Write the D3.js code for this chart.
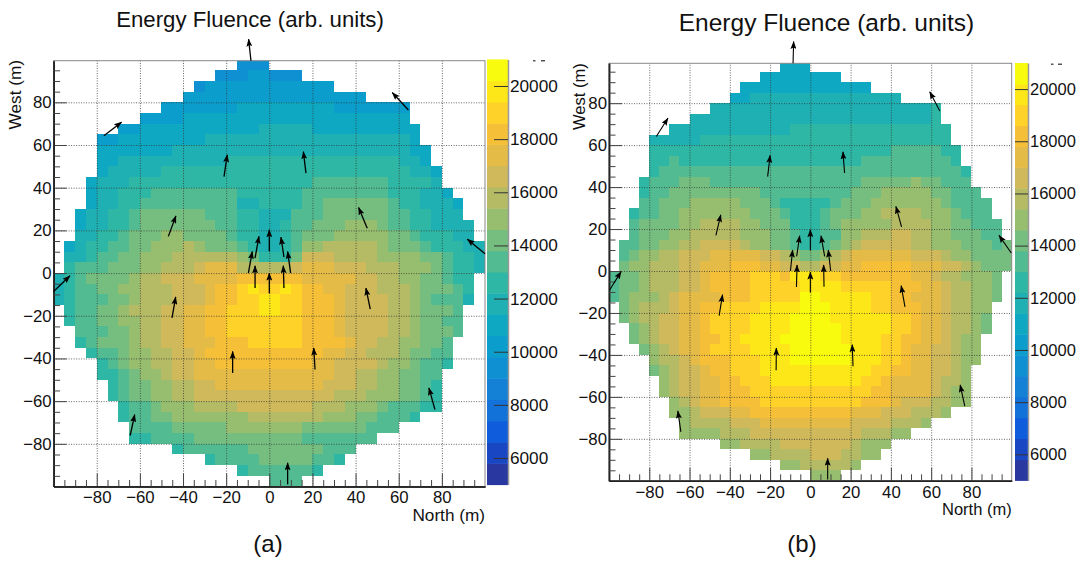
<!DOCTYPE html>
<html>
<head>
<meta charset="utf-8">
<script src="https://cdn.jsdelivr.net/npm/d3@7"></script>
<style>
  body { margin: 0; background: #fff; }
  svg { display: block; }
  text { font-family: "Liberation Sans", Arial, sans-serif; fill: #111; }
</style>
</head>
<body>
<svg id="chart" width="1083" height="563"></svg>
<script>
// band letters: a = 5000-5800 ... t = 20200-21000, each row is "band col" or "band from-to"
const bandLetters = "abcdefghijklmnopqrst";
const zMin = 5000, zMax = 21000, zStep = 800;

const fluenceA = [
  "f17-19",
  "f15-17 g18-19 f20-22",
  "f13 g14-25",
  "g12-28",
  "g10-16 h17-25 g26-32",
  "g8-11 h12-32",
  "g6-7 h8-18 i19-23 h24-33",
  "g4-5 h6-13 i14-32 h33",
  "h4-10 i11-32 h33-34",
  "h4-5 i6-15 j16-31 i32-33 h34",
  "h4 i5-9 j10-32 i33-34 h35",
  "h3 i4-6 j7-23 k24-30 j31-34 i35",
  "h3 i4-5 j6-8 k9-16 j17-22 k23-30 j31-33 i34-35 h36",
  "h3 i4-5 j6-7 k8-16 i17-18 j19-22 k23-24 l25-30 k31 j32-33 i34-36 h37",
  "h2 i3-4 j5-6 k7 l8-13 k14-16 j17-18 i19-21 k22-24 l25-30 k31-32 j33-34 i35-37",
  "h2 i3-4 j5-6 k7 l8-14 k15-16 j17-18 i19-20 j21 k22-23 l24-26 m27-29 l30 k31-32 j33-34 i35-38",
  "i2-3 j4-5 k6 l7-9 m10-11 l12-15 k16 j17-18 i19-20 j21 k22 l23-25 m26-30 l31-32 k33 j34-36 i37-38",
  "h1 i2 j3-4 k5-6 l7-8 m9-11 n12 m13 l14-16 k17 j18 i19-20 j21 k22 m23-24 n25-29 m30 l31-33 k34 j35-37 i38-39",
  "i1-2 j3 k4-5 l6-7 m8-10 n11-16 m17 l18 j19-21 l22 o23-25 n26-29 m30-33 l34-35 k36 j37-38 i39",
  "j1 k2-4 l5-7 m8-9 n10-12 o13 p14-16 n17-21 o22 p23-25 o26-28 n29-31 m32-34 l35 k36 j37-38 i39",
  "i0 j1 k2 l3-6 m7 n8-9 o10-12 p13-16 q17-22 p23-27 o28-29 n30-31 m32-33 l34-35 k36 j37-38",
  "i0 j1 k2-3 l4-5 m6-7 n8-10 o11-13 p14 q15-16 r17 s18 r19-20 s21 r22 q23-24 p25-26 o27-29 n30-32 m33 l34-36 k37 j38",
  "i0 j1 k2-4 l5-6 m7 n8-10 o11-13 p14 q15-16 r17-18 s19-20 r21-22 q23-25 p26 o27-30 n31-32 m33 l34 k35-37 i38",
  "j1 k2-3 l4-5 m6 n7-9 o10-11 p12-13 q14-15 r16-18 s19-20 r21-22 q23-25 p26 o27-30 n31-32 m33 l34-36 k37",
  "j1 k2-3 l4-5 m6-7 n8-9 o10-11 p12-13 q14-15 r16-22 q23-25 p26 o27-30 n31-32 m33 l34-35 k36-37",
  "k2-4 l5-6 m7 n8-9 o10-11 p12-13 q14-15 r16-22 q23-25 p26 o27-30 n31-32 m33 l34-36 k37",
  "j2 k3 l4-6 m7 n8-9 o10-11 p12-14 q15-17 r18-22 q23-26 p27 o28-29 n30-31 m32-33 l34-35 k36",
  "j3 k4-5 l6 m7-8 n9-10 o11-12 p13 q14-24 p25-26 o27-28 n29-31 m32 l33-34 k35-36",
  "j4 k5 l6 m7-8 n9-10 o11-12 p13-14 q15-23 p24-25 o26-29 n30 m31-32 l33 k34-35 j36",
  "j4-5 k6 l7 m8-9 n10 o11-12 p13-25 o26-27 n28-29 m30-31 l32-33 k34-35",
  "j5 k6 l7-8 m9-10 n11-12 o13-14 p15-24 o25-27 n28-29 m30-31 l32-33 k34 j35",
  "j5 k6 l7-8 m9-10 n11-12 o13-25 n26-28 m29-31 l32-33 k34 j35",
  "j6 k7-8 l9 m10-12 n13-16 o17-23 n24-26 m27-29 l30 k31-33 j34-35",
  "j6 k7-8 l9-10 m11-17 n18-24 m25-27 l28-29 k30-32 j33",
  "k7-10 l11-15 m16-22 l23-28 k29-31",
  "j7-8 k9-12 l13-22 k23-29",
  "j11 k12-17 l18-24 k25-27",
  "j14 k15-18 l19-23 k24-25 j26",
  "j17 k18-23 j24",
  "k20-22"
];

const fluenceB = [
  "h17-19",
  "h15-22",
  "h13-25",
  "h12-13 i14-28",
  "i10-31 j32",
  "i8-31 j32",
  "i6-17 j18-33",
  "i4-8 j9-33",
  "j4-27 k28-32 j33-34",
  "j4-5 k6 j7-24 k25-33 j34",
  "j4 k5-34 j35",
  "j3 k4-6 l7-9 k10-24 l25-29 m30 l31-32 k33-35",
  "j3 k4-5 l6-14 k15-23 l24-26 m27-31 l32-33 k34-36",
  "k3-4 l5-7 m8-12 l13-15 k16 j17-21 k22 l23-25 m26-32 l33 k34-37",
  "j2 k3-4 l5-6 m7-13 l14-16 k17 j18-20 k21 l22-24 m25-26 n27-30 m31-33 l34 k35-37",
  "k2 l3-6 m7-8 n9-12 m13-14 l15-17 j18-20 k21 l22 m23-27 n28-31 m32-33 l34-35 k36-38",
  "k2 l3-5 m6-7 n8-12 m13-15 l16-17 k18 j19-20 k21-22 m23-24 n25-27 o28-29 n30-31 m32-33 l34-36 k37-38",
  "k1-2 l3-4 m5-6 n7-8 o9-12 n13 m14-15 l16-17 k18 j19-20 k21 l22 m23 n24 o25-29 n30-31 m32-34 l35-37 k38 l39",
  "k1 l2 m3-4 n5-6 o7-9 p10-14 o15-16 n17 m18 l19-20 m21 n22 o23 p24-29 o30-32 n33 m34-35 l36-39",
  "l1 m2-3 n4-6 o7-8 p9-11 q12-14 p15-16 o17-18 n19-20 o21-22 p23-24 q25-29 p30-32 o33-34 n35 m36 l37-39",
  "k0 l1-2 m3 n4-6 o7-8 p9 q10-13 r14-16 q17 s18-20 r21-22 q23-29 p30-31 o32 n33-34 m35-37 l38",
  "k0 l1-2 m3 n4-6 o7-8 p9 q10-13 r14-18 s19-22 r23-27 q28-30 p31-32 o33 n34-35 m36-37 l38",
  "k0 l1 m2-4 n5 o6 p7-10 q11-13 r14-18 t19-20 s21-25 r26-27 q28-29 p30-32 o33 n34-35 m36-37 l38",
  "l1 m2 n3-5 o6 p7-8 q9-10 r11-14 s15-18 t19-21 s22-25 r26-27 q28-30 p31-32 o33 n34-35 m36-37",
  "l1 m2 n3-4 o5-6 p7-8 q9 r10-13 s14-17 t18-21 s22-27 r28-29 q30 p31-32 o33 n34-35 m36 l37",
  "l2 m3 n4 o5-6 p7-8 q9 r10-13 s14-17 t18-22 s23-27 r28-29 q30 p31-32 o33 n34-35 m36 l37",
  "l2 m3 n4 o5-6 p7-8 q9-10 r11-12 s13-16 t17-22 s23-26 r27-28 q29-30 p31-32 o33 n34 m35-36",
  "l3 m4 n5 o6 p7-8 q9 r10-13 s14-17 t18-23 s24-26 r27-28 q29 p30-31 o32-33 n34 m35-36",
  "m4 n5-6 o7 p8 q9-11 r12-14 s15-17 t18-23 s24-26 r27-28 q29 p30-31 o32-33 n34 m35-36",
  "l4 m5 n6 o7-8 p9 q10-11 r12-14 s15-25 r26-27 q28-29 p30-31 o32-33 n34 m35",
  "m5 n6 o7-8 p9-10 q11-12 r13-15 s16-24 r25-26 q27 p28-31 o32 n33-34 m35",
  "m5 n6 o7-8 p9-10 q11-13 r14-25 q26-27 p28-31 o32 n33 m34-35",
  "m6 n7 o8 p9-10 q11-14 r15-24 q25-27 p28 o29-31 n32-33 m34-35",
  "m6-7 n8 o9-11 p12-13 q14-23 p24-26 o27-29 n30-32 m33",
  "m7 n8-11 o12-14 p15-23 o24-27 n28-30 m31",
  "m7-10 n11-13 o14-24 n25-27 m28-29",
  "m11-12 n13-16 o17-23 n24 m25-27",
  "m14-15 n16-19 o20-22 n23-24 m25-26",
  "m17-18 n19-23 m24",
  "m20-22"
];

// arrows: [tail north, tail west, head north, head west] in metres
const arrowsA = [
  [-8.5, 99.5, -9.6, 109.6], [-76.7, 64.3, -68.5, 70.7], [-21, 45.2, -19.5, 55.4],
  [-46.8, 17.2, -43.3, 26.8], [0, 10.1, 0, 20.3], [-6.6, 7, -4.8, 17.2],
  [-9.7, 0, -7.9, 10.1], [-6.6, -7, -6.6, 3.4], [0, -9.4, 0, 0],
  [6.8, -7, 6.5, 3.4], [6.8, 7.5, 5.4, 16.8], [9.9, 0, 8.5, 10.1],
  [17, 46.8, 15.8, 56.9], [45.4, 21, 41.4, 30.7], [64.5, 76.4, 57, 84.6],
  [100, 9, 91.8, 15.9], [-100, -8.6, -92.4, -1.3], [-45.1, -21, -43.4, -11.2],
  [-17, -46.8, -17, -36.7], [-64.5, -76.1, -62.4, -66.3], [8.5, -99, 8.5, -88.9],
  [21.2, -45.2, 20.6, -35.1], [46.8, -16.9, 44.8, -7], [76.8, -64, 74, -53.8]
];
const arrowsB = [
  [-8.6, 99, -8.3, 109.4], [-76.5, 64.1, -70.7, 72.9], [-21.2, 45, -20, 55.1],
  [-46.9, 17, -44.5, 26.8], [0, 9.8, 0, 19.7], [-6.8, 7, -5.3, 16.8],
  [-9.9, 0, -8.8, 10], [-6.9, -7.6, -6.6, 2.9], [0, -10.2, 0, -0.5],
  [6.8, -7.5, 6.6, 2.9], [7.1, 7, 5.3, 16.8], [10.1, 0, 8.9, 10],
  [17, 46.7, 16.2, 56.8], [45.3, 21, 42.5, 30.8], [64.3, 76.3, 59.3, 85.4],
  [99.8, 8.6, 93.7, 17], [-99.6, -8.9, -94, -0.3], [-45.3, -21.3, -43.6, -11.3],
  [-17, -47.3, -16.9, -36.7], [-64.3, -76.7, -65.8, -66.7], [8.6, -99.4, 8.6, -89.2],
  [21.2, -45.4, 20.8, -35.1], [47, -17.1, 45.1, -7], [76.7, -64.4, 74.4, -54.3]
];

const axisTicks = [-80, -60, -40, -20, 0, 20, 40, 60, 80];
const colorTicks = [6000, 8000, 10000, 12000, 14000, 16000, 18000, 20000];
const palette = ["#2838a0", "#1946c3", "#0f5cdd", "#1272d9", "#1481d6", "#0f90d2", "#0b9ecd", "#0ea8c2",
  "#1eb0b2", "#2eb7a4", "#52bb92", "#75be80", "#97be6e", "#b4bb64", "#cfb95a", "#e4bb46",
  "#f5c037", "#fed228", "#fde719", "#f9fb0e"];

const color = d3.scaleQuantize().domain([zMin, zMax]).range(palette);

const panels = [
  { name: "(a)", rows: fluenceA, arrows: arrowsA, x: [53.6, 485], y: [486.5, 60.7], yMax: 99.5,
    bar: { x: 487, w: 21, y: [484.6, 59.4], tick: 14 }, titleX: 250, titleY: 27, titleSize: 22.2, labelSize: 17.2,
    westX: 21, westY: 60, northY: 521, nameX: 268, arrowWidth: 1.3, xPad: 4.5,
    clipped: [[533, 60, 2.5], [541, 60, 4]] },
  { name: "(b)", rows: fluenceB, arrows: arrowsB, x: [609, 1011.7], y: [480.8, 63.3], yMax: 99,
    bar: { x: 1015, w: 13, y: [480.4, 63], tick: 13 }, titleX: 826.5, titleY: 31, titleSize: 24.5, labelSize: 16.5,
    westX: 585, westY: 63.3, northY: 515, nameX: 802, arrowWidth: 1.1, xPad: 5,
    clipped: [[1051, 63.5, 2.5], [1058, 63.5, 4]] }
];

const svg = d3.select("#chart");

// arrow head shared by both panels
svg.append("defs").append("marker")
  .attr("id", "head")
  .attr("viewBox", "0 0 8 6")
  .attr("refX", 7.5).attr("refY", 3)
  .attr("markerUnits", "userSpaceOnUse")
  .attr("markerWidth", 8).attr("markerHeight", 6)
  .attr("orient", "auto")
  .append("path").attr("d", "M0,0 L8,3 L0,6 L1.5,3 Z").attr("fill", "#000");

function parseRows(rows) {
  const cells = [];
  rows.forEach((row, r) => {
    row.split(" ").forEach(run => {
      const band = bandLetters.indexOf(run[0]);
      const [from, to] = run.slice(1).split("-").map(Number);
      d3.range(from, (to === undefined ? from : to) + 1).forEach(c => {
        cells.push({ north: -100 + 5 * c, west: 100 - 5 * r, value: zMin + (band + 0.5) * zStep });
      });
    });
  });
  return cells;
}

function drawPanel(p, idx) {
  const x = d3.scaleLinear().domain([-100, 100]).range(p.x);
  const y = d3.scaleLinear().domain([-100, p.yMax]).range(p.y);
  const g = svg.append("g");

  const clipId = "clip" + idx;
  g.append("clipPath").attr("id", clipId).append("rect")
    .attr("x", p.x[0]).attr("y", p.y[1])
    .attr("width", p.x[1] - p.x[0]).attr("height", p.y[0] - p.y[1]);

  g.append("g").attr("clip-path", `url(#${clipId})`)
    .attr("shape-rendering", "crispEdges")
    .selectAll("rect").data(parseRows(p.rows)).enter()
    .append("rect")
    .attr("x", d => x(d.north))
    .attr("y", d => y(d.west))
    .attr("width", d => x(d.north + 5) - x(d.north))
    .attr("height", d => y(d.west - 5) - y(d.west))
    .attr("fill", d => color(d.value));

  const bottom = p.y[0], left = p.x[0];
  const width = p.x[1] - p.x[0], height = p.y[0] - p.y[1];

  // dotted grid
  const grid = g.append("g").attr("class", "grid");
  grid.append("g").attr("transform", `translate(0,${bottom})`)
    .call(d3.axisBottom(x).tickValues(axisTicks).tickSize(-height).tickFormat(""));
  grid.append("g").attr("transform", `translate(${left},0)`)
    .call(d3.axisLeft(y).tickValues(axisTicks).tickSize(-width).tickFormat(""));
  grid.selectAll(".domain").remove();
  grid.selectAll("line").attr("stroke", "#333").attr("stroke-opacity", 0.75).attr("stroke-dasharray", "1,1.5");

  // frame
  g.append("rect").attr("x", left).attr("y", p.y[1]).attr("width", width).attr("height", height)
    .attr("fill", "none").attr("stroke", "#888").attr("stroke-width", 1);

  const minor = d3.range(-95, 100, 5).filter(v => v % 20 !== 0);

  // axes with ticks pointing inward
  const xAxis = g.append("g").attr("transform", `translate(0,${bottom})`)
    .call(d3.axisBottom(x).tickValues(axisTicks).tickSize(-13).tickSizeOuter(0).tickPadding(p.xPad));
  const xMinor = g.append("g").attr("transform", `translate(0,${bottom})`)
    .call(d3.axisBottom(x).tickValues(minor).tickSize(-6.5).tickSizeOuter(0).tickFormat(""));
  const yAxis = g.append("g").attr("transform", `translate(${left},0)`)
    .call(d3.axisLeft(y).tickValues(axisTicks).tickSize(-13).tickSizeOuter(0).tickPadding(2));
  const yMinor = g.append("g").attr("transform", `translate(${left},0)`)
    .call(d3.axisLeft(y).tickValues(minor).tickSize(-6.5).tickSizeOuter(0).tickFormat(""));

  [xAxis, xMinor, yAxis, yMinor].forEach(a => {
    a.selectAll("line").attr("stroke", "#444");
    a.select(".domain").attr("stroke", "#222").attr("stroke-width", 1.5);
    a.selectAll("text").attr("font-size", 16.8).attr("font-family", null).attr("fill", "#111");
  });

  // arrows
  g.append("g").selectAll("line").data(p.arrows).enter()
    .append("line")
    .attr("x1", d => x(d[0])).attr("y1", d => y(d[1]))
    .attr("x2", d => x(d[2])).attr("y2", d => y(d[3]))
    .attr("stroke", "#000").attr("stroke-width", p.arrowWidth)
    .attr("marker-end", "url(#head)");

  // colour bar
  const z = d3.scaleLinear().domain([zMin, zMax]).range(p.bar.y);
  const bar = g.append("g");
  bar.selectAll("rect").data(palette).enter()
    .append("rect")
    .attr("x", p.bar.x).attr("width", p.bar.w)
    .attr("y", (d, i) => z(zMin + (i + 1) * zStep))
    .attr("height", (d, i) => z(zMin + i * zStep) - z(zMin + (i + 1) * zStep) + 0.5)
    .attr("fill", d => d);
  const zAxis = g.append("g").attr("transform", `translate(${p.bar.x + p.bar.w},0)`)
    .call(d3.axisRight(z).tickValues(colorTicks).tickSize(-p.bar.tick).tickSizeOuter(0).tickPadding(2).tickFormat(d3.format("d")));
  zAxis.select(".domain").attr("stroke", "#999").attr("stroke-width", 1.5);
  zAxis.selectAll("line").attr("stroke", "#333");
  zAxis.selectAll("text").attr("font-size", p.labelSize).attr("font-family", null).attr("fill", "#111");

  // cut-off remains of the exponent above the colour bar
  g.append("g").selectAll("rect").data(p.clipped).enter()
    .append("rect")
    .attr("x", d => d[0]).attr("y", d => d[1]).attr("width", d => d[2]).attr("height", 1.5)
    .attr("fill", "#555");

  // titles and labels
  g.append("text").attr("x", p.titleX).attr("y", p.titleY).attr("text-anchor", "middle")
    .attr("font-size", p.titleSize).text("Energy Fluence (arb. units)");
  g.append("text").attr("transform", `translate(${p.westX},${p.westY}) rotate(-90)`)
    .attr("text-anchor", "end").attr("font-size", p.labelSize).text("West (m)");
  g.append("text").attr("x", p.x[1]).attr("y", p.northY).attr("text-anchor", "end")
    .attr("font-size", p.labelSize).text("North (m)");
  g.append("text").attr("x", p.nameX).attr("y", 552).attr("text-anchor", "middle")
    .attr("font-size", 24).text(p.name);
}

panels.forEach(drawPanel);
</script>
</body>
</html>
